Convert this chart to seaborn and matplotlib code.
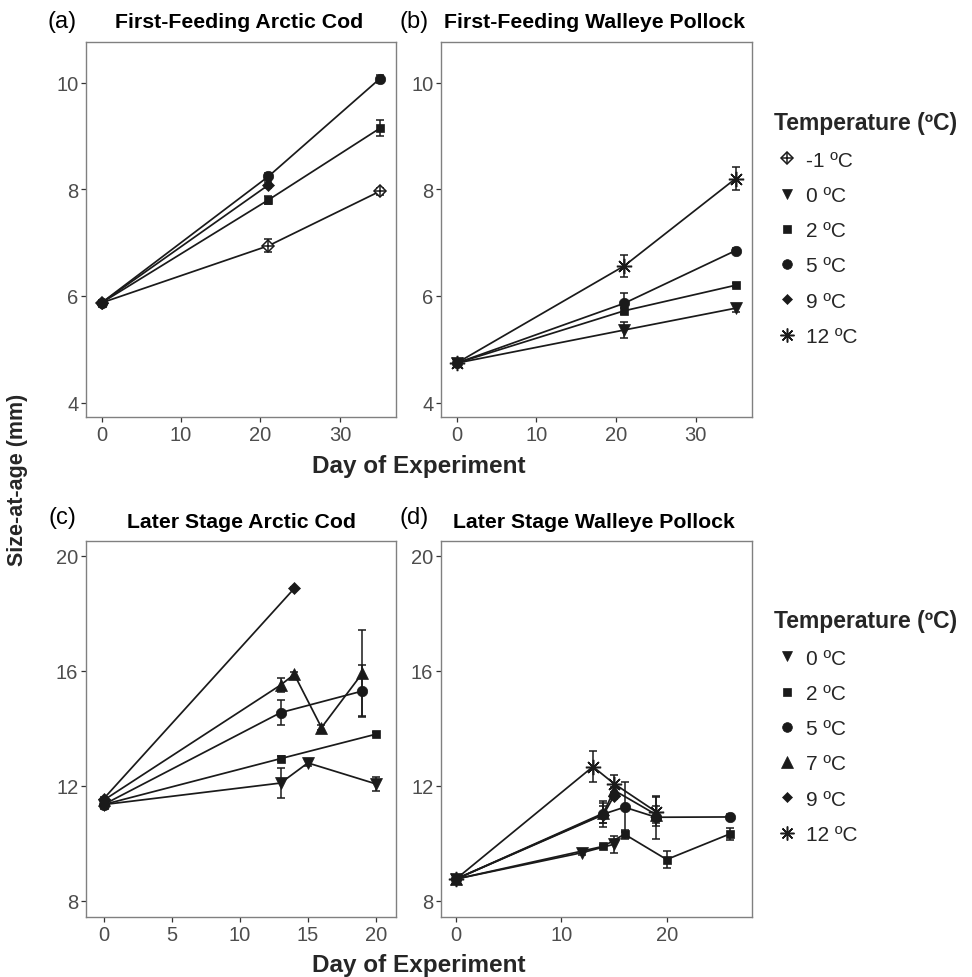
import matplotlib
matplotlib.use("Agg")
import matplotlib.pyplot as plt
from matplotlib.lines import Line2D
import pandas as pd
import seaborn as sns

sns.set_theme(style="white")
plt.rcParams["font.family"] = ["Liberation Sans", "DejaVu Sans"]

# ---------------- data: size-at-age (mm) and standard errors ----------------
# (a) first-feeding Arctic cod
a_days = [0, 21, 35]
a_m1_size = [5.87, 6.94, 7.96]
a_m1_se = [0.04, 0.12, 0.07]
a_2_size = [5.87, 7.80, 9.14]
a_2_se = [0.04, 0.08, 0.15]
a_5_size = [5.87, 8.24, 10.07]
a_5_se = [0.04, 0.06, 0.07]
a_9_days = [0, 21]
a_9_size = [5.87, 8.08]
a_9_se = [0.04, 0.06]

# (b) first-feeding walleye pollock
b_days = [0, 21, 35]
b_0_size = [4.74, 5.36, 5.77]
b_0_se = [0.03, 0.15, 0.08]
b_2_size = [4.74, 5.72, 6.20]
b_2_se = [0.03, 0.06, 0.04]
b_5_size = [4.74, 5.86, 6.85]
b_5_se = [0.03, 0.20, 0.05]
b_12_size = [4.74, 6.56, 8.20]
b_12_se = [0.03, 0.21, 0.22]

# (c) later stage Arctic cod
c_0_days = [0, 13, 15, 20]
c_0_size = [11.35, 12.10, 12.80, 12.07]
c_0_se = [0.05, 0.52, 0.10, 0.25]
c_2_days = [0, 13, 20]
c_2_size = [11.35, 12.95, 13.80]
c_2_se = [0.05, 0.08, 0.06]
c_5_days = [0, 13, 19]
c_5_size = [11.35, 14.55, 15.30]
c_5_se = [0.05, 0.43, 0.90]
c_7_days = [0, 13, 14, 16, 19]
c_7_size = [11.50, 15.51, 15.88, 14.03, 15.92]
c_7_se = [0.05, 0.25, 0.08, 0.08, 1.50]
c_9_days = [0, 14]
c_9_size = [11.55, 18.87]
c_9_se = [0.05, 0.05]

# (d) later stage walleye pollock
d_0_days = [0, 12, 15]
d_0_size = [8.76, 9.68, 9.97]
d_0_se = [0.05, 0.08, 0.30]
d_2_days = [0, 14, 16, 20, 26]
d_2_size = [8.76, 9.90, 10.32, 9.44, 10.33]
d_2_se = [0.05, 0.05, 0.15, 0.30, 0.20]
d_5_days = [0, 14, 16, 19, 26]
d_5_size = [8.76, 11.02, 11.26, 10.91, 10.92]
d_5_se = [0.05, 0.44, 0.88, 0.75, 0.12]
d_7_days = [0, 14, 15, 19]
d_7_size = [8.76, 11.05, 11.85, 11.00]
d_7_se = [0.05, 0.35, 0.10, 0.30]
d_9_days = [0, 14, 15]
d_9_size = [8.76, 11.00, 11.65]
d_9_se = [0.05, 0.30, 0.10]
d_12_days = [0, 13, 15, 19]
d_12_size = [8.76, 12.67, 12.08, 11.10]
d_12_se = [0.05, 0.55, 0.30, 0.50]

titles = ["First-Feeding Arctic Cod", "First-Feeding Walleye Pollock",
          "Later Stage Arctic Cod", "Later Stage Walleye Pollock"]
tags = ["(a)", "(b)", "(c)", "(d)"]
legend_top = ["-1 ºC", "0 ºC", "2 ºC", "5 ºC", "9 ºC", "12 ºC"]
legend_bottom = ["0 ºC", "2 ºC", "5 ºC", "7 ºC", "9 ºC", "12 ºC"]

INK = "#1a1a1a"
MARKER = {"-1 ºC": "D", "0 ºC": "v", "2 ºC": "s", "5 ºC": "o",
          "7 ºC": "^", "9 ºC": "D", "12 ºC": (8, 2, 0)}
MSIZE = {"-1 ºC": 6.5, "0 ºC": 8, "2 ºC": 6, "5 ºC": 7.5,
         "7 ºC": 8.5, "9 ºC": 6, "12 ºC": 11}


def frame(series):
    parts = [pd.DataFrame({"temp": t, "day": d, "size": s, "se": e})
             for t, (d, s, e) in series.items()]
    return pd.concat(parts, ignore_index=True)


panel_a = frame({"-1 ºC": (a_days, a_m1_size, a_m1_se),
                 "2 ºC": (a_days, a_2_size, a_2_se),
                 "5 ºC": (a_days, a_5_size, a_5_se),
                 "9 ºC": (a_9_days, a_9_size, a_9_se)})
panel_b = frame({"0 ºC": (b_days, b_0_size, b_0_se),
                 "2 ºC": (b_days, b_2_size, b_2_se),
                 "5 ºC": (b_days, b_5_size, b_5_se),
                 "12 ºC": (b_days, b_12_size, b_12_se)})
panel_c = frame({"0 ºC": (c_0_days, c_0_size, c_0_se),
                 "2 ºC": (c_2_days, c_2_size, c_2_se),
                 "5 ºC": (c_5_days, c_5_size, c_5_se),
                 "7 ºC": (c_7_days, c_7_size, c_7_se),
                 "9 ºC": (c_9_days, c_9_size, c_9_se)})
panel_d = frame({"0 ºC": (d_0_days, d_0_size, d_0_se),
                 "2 ºC": (d_2_days, d_2_size, d_2_se),
                 "5 ºC": (d_5_days, d_5_size, d_5_se),
                 "7 ºC": (d_7_days, d_7_size, d_7_se),
                 "9 ºC": (d_9_days, d_9_size, d_9_se),
                 "12 ºC": (d_12_days, d_12_size, d_12_se)})

W, H = 972, 978
fig = plt.figure(figsize=(W / 100, H / 100), dpi=100)


def fx(px):
    return px / W


def fy(py):
    return 1 - py / H


def add_axes(x0, y0, x1, y1):
    return fig.add_axes([fx(x0), fy(y1), (x1 - x0) / W, (y1 - y0) / H])


def draw_marker(ax, temp, x, y, **kw):
    if temp == "-1 ºC":
        ax.plot(x, y, ls="none", marker="D", ms=MSIZE[temp], mfc="white",
                mec=INK, mew=1.1, zorder=5, **kw)
        ax.plot(x, y, ls="none", marker="+", ms=MSIZE[temp] + 1, mec=INK,
                mew=1.1, zorder=6, **kw)
    elif temp == "12 ºC":
        ax.plot(x, y, ls="none", marker=MARKER[temp], ms=MSIZE[temp],
                mec=INK, mew=1.1, zorder=5, **kw)
    else:
        ax.plot(x, y, ls="none", marker=MARKER[temp], ms=MSIZE[temp],
                mfc=INK, mec=INK, mew=0.5, zorder=5, **kw)


def draw_panel(ax, df):
    sns.lineplot(data=df, x="day", y="size", units="temp", estimator=None,
                 color=INK, lw=1.25, ax=ax, legend=False)
    for temp, g in df.groupby("temp", sort=False):
        ax.errorbar(g["day"], g["size"], yerr=g["se"], fmt="none",
                    ecolor=INK, elinewidth=1.1, capsize=3.2, capthick=1.1,
                    zorder=4)
        draw_marker(ax, temp, g["day"], g["size"])


ax_a = add_axes(86, 43, 396, 418)
ax_b = add_axes(441, 43, 752, 418)
ax_c = add_axes(86, 542, 396, 918)
ax_d = add_axes(441, 542, 752, 918)

draw_panel(ax_a, panel_a)
draw_panel(ax_b, panel_b)
draw_panel(ax_c, panel_c)
draw_panel(ax_d, panel_d)

for ax in (ax_a, ax_b):
    ax.set_xlim(-1.95, 37.05)
    ax.set_ylim(3.73, 10.76)
    ax.set_yticks([4, 6, 8, 10])
    ax.set_xticks([0, 10, 20, 30])
ax_c.set_xlim(-1.29, 21.47)
ax_c.set_xticks([0, 5, 10, 15, 20])
ax_d.set_xlim(-1.42, 28.1)
ax_d.set_xticks([0, 10, 20])
for ax in (ax_c, ax_d):
    ax.set_ylim(7.44, 20.52)
    ax.set_yticks([8, 12, 16, 20])

for ax in (ax_a, ax_b, ax_c, ax_d):
    ax.set_xlabel("")
    ax.set_ylabel("")
    ax.set_facecolor("white")
    for sp in ax.spines.values():
        sp.set_color("#808080")
        sp.set_linewidth(1.0)
    ax.tick_params(bottom=True, left=True, direction="out", length=3.5,
                   width=0.9, color="#333333", labelsize=14.5,
                   labelcolor="#4d4d4d", pad=2)

# panel tags and titles
for tag, title, (tx, ty), cx, ry in zip(
        tags, titles,
        [(62, 22), (414, 22), (62, 518), (414, 518)],
        [239, 594, 241, 594], [22, 22, 523, 523]):
    fig.text(fx(tx), fy(ty), tag, ha="center", va="center", fontsize=17,
             color="black")
    fig.text(fx(cx), fy(ry), title, ha="center", va="center", fontsize=15.3,
             fontweight="bold", color="black")

fig.text(fx(419), fy(466), "Day of Experiment", ha="center", va="center",
         fontsize=17.5, fontweight="bold")
fig.text(fx(419), fy(966), "Day of Experiment", ha="center", va="center",
         fontsize=17.5, fontweight="bold")
fig.text(fx(18), fy(480), "Size-at-age (mm)", ha="center", va="center",
         rotation=90, fontsize=15.5, fontweight="bold")


def legend_handle(temp):
    if temp == "-1 ºC":
        return (Line2D([], [], ls="none", marker="D", ms=MSIZE[temp],
                       mfc="white", mec=INK, mew=1.1),
                Line2D([], [], ls="none", marker="+", ms=MSIZE[temp] + 1,
                       mec=INK, mew=1.1))
    if temp == "12 ºC":
        return Line2D([], [], ls="none", marker=MARKER[temp],
                      ms=MSIZE[temp] - 1, mec=INK, mew=1.1)
    return Line2D([], [], ls="none", marker=MARKER[temp], ms=MSIZE[temp] - 0.5,
                  mfc=INK, mec=INK, mew=0.5)


for labels, top in ((legend_top, 104), (legend_bottom, 602)):
    fig.legend([legend_handle(t) for t in labels], labels,
               title="Temperature (ºC)", loc="upper left",
               bbox_to_anchor=(fx(766), fy(top)), frameon=False,
               fontsize=15,
               title_fontproperties={"weight": "bold", "size": 16.5},
               alignment="left", handlelength=1.2, handletextpad=0.3,
               labelspacing=0.78, borderaxespad=0)

fig.savefig("out.png", dpi=100, facecolor="white")
